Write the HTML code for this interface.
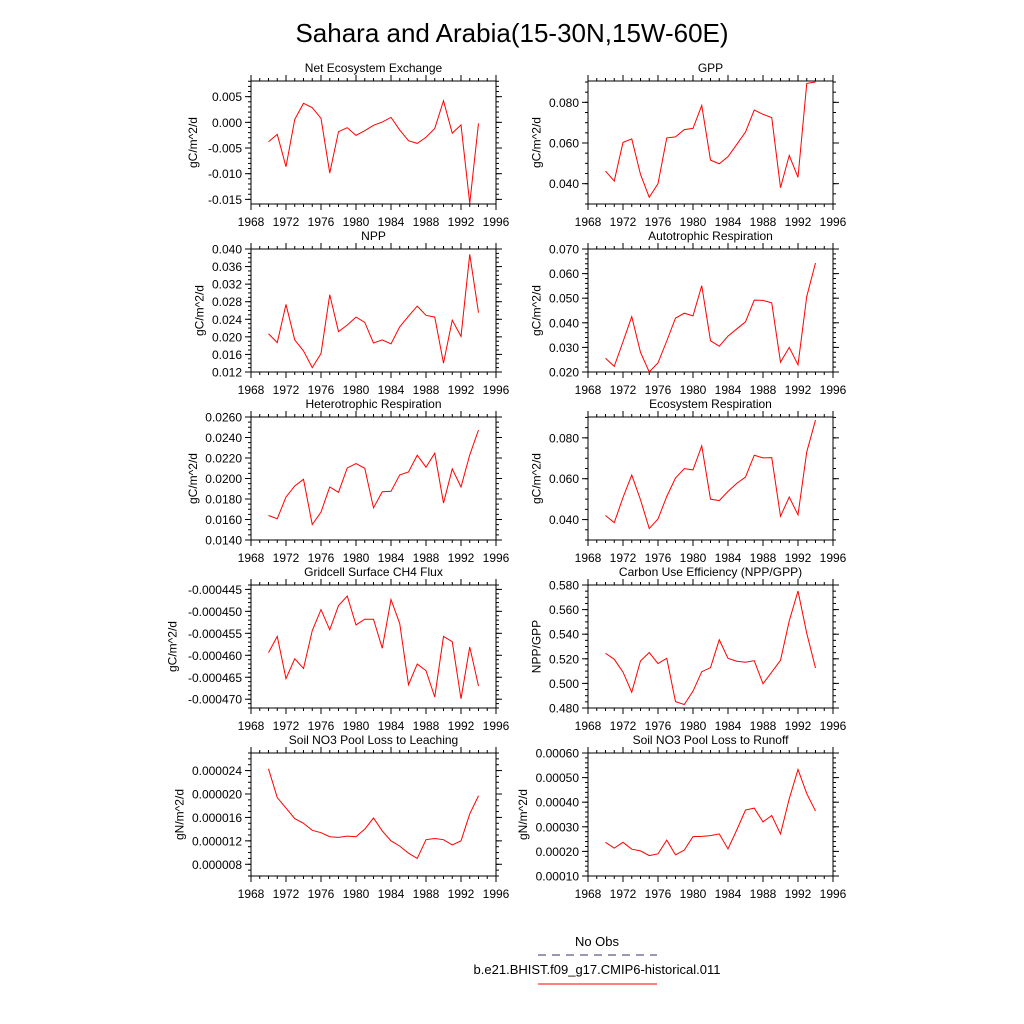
<!DOCTYPE html>
<html><head><meta charset="utf-8"><style>
html,body{margin:0;padding:0;background:#fff;}
svg{display:block;font-family:"Liberation Sans",sans-serif;}
</style></head><body>
<svg id="chart" width="1024" height="1024" viewBox="0 0 1024 1024">
<text x="512" y="42" font-size="26" text-anchor="middle">Sahara and Arabia(15-30N,15W-60E)</text>
<g id="panels"></g>
<g>
<text x="597" y="946" font-size="13" text-anchor="middle">No Obs</text>
<line x1="538" y1="955" x2="657" y2="955" stroke="#333366" stroke-width="1" stroke-dasharray="8,6"/>
<text x="597" y="974" font-size="13" text-anchor="middle">b.e21.BHIST.f09_g17.CMIP6-historical.011</text>
<line x1="538" y1="984" x2="657" y2="984" stroke="red" stroke-width="1"/>
</g>
</svg>
<script>
const years = [1970,1971,1972,1973,1974,1975,1976,1977,1978,1979,1980,1981,1982,1983,1984,1985,1986,1987,1988,1989,1990,1991,1992,1993,1994];
const xTicks = [1968,1972,1976,1980,1984,1988,1992,1996];

const neeVals = [-0.00377,-0.00234,-0.00864,0.00058,0.0037,0.00286,0.00078,-0.00987,-0.00182,-0.00104,-0.00253,-0.00162,-0.00058,0.00006,0.00097,-0.0015,-0.00357,-0.0041,-0.0029,-0.0012,0.0042,-0.0021,-0.0005,-0.0158,-0.0002];
const gppVals = [0.0462,0.0413,0.0603,0.062,0.0446,0.0333,0.040,0.0625,0.063,0.0666,0.0672,0.0785,0.0516,0.0498,0.0533,0.0593,0.0654,0.0762,0.0741,0.0725,0.038,0.0539,0.0431,0.0893,0.0900];
const nppVals = [0.0207,0.0187,0.0274,0.0193,0.0168,0.0130,0.0162,0.0296,0.0212,0.0227,0.0245,0.0233,0.0186,0.0193,0.0184,0.0223,0.0247,0.0270,0.0249,0.0245,0.0140,0.0238,0.0201,0.0388,0.0255];
const arVals = [0.0256,0.0223,0.0323,0.0425,0.028,0.020,0.0237,0.0326,0.0419,0.0439,0.0428,0.0551,0.0327,0.0305,0.0346,0.0375,0.0404,0.0492,0.0491,0.0481,0.0240,0.0300,0.0229,0.0507,0.0643];
const hrVals = [0.01639,0.01607,0.0182,0.01927,0.01992,0.01551,0.01672,0.01917,0.01865,0.02103,0.02146,0.0210,0.01714,0.01871,0.01875,0.02035,0.02064,0.02227,0.0211,0.02247,0.0176,0.02094,0.01917,0.0223,0.02473];
const erVals = [0.042,0.0385,0.0508,0.0618,0.0497,0.0356,0.0403,0.0513,0.0603,0.0649,0.0643,0.0761,0.05,0.0493,0.0538,0.0577,0.0608,0.0715,0.0702,0.0703,0.0416,0.051,0.0423,0.0731,0.0887];
const ch4Vals = [-0.0004594,-0.0004557,-0.0004653,-0.0004608,-0.000463,-0.0004544,-0.0004496,-0.0004542,-0.0004487,-0.0004465,-0.0004531,-0.0004518,-0.0004518,-0.0004584,-0.0004473,-0.0004528,-0.0004667,-0.000462,-0.0004635,-0.0004695,-0.0004557,-0.0004569,-0.0004699,-0.0004581,-0.000467];
const cueVals = [0.5245,0.5196,0.5092,0.4928,0.5183,0.5251,0.5161,0.5204,0.4852,0.4828,0.4937,0.5095,0.5128,0.5355,0.5204,0.518,0.5172,0.5185,0.4997,0.5092,0.5188,0.5508,0.5751,0.5407,0.5125];
const leachVals = [24.3e-6,19.4e-6,17.6e-6,15.8e-6,15.0e-6,13.8e-6,13.4e-6,12.7e-6,12.6e-6,12.8e-6,12.7e-6,14.0e-6,15.9e-6,13.7e-6,12.0e-6,11.1e-6,9.9e-6,9.0e-6,12.2e-6,12.4e-6,12.2e-6,11.3e-6,12.0e-6,16.6e-6,19.7e-6];
const runoffVals = [0.000237,0.000213,0.000237,0.000209,0.000202,0.000183,0.00019,0.000246,0.000186,0.000205,0.00026,0.000261,0.000264,0.000271,0.00021,0.000287,0.000368,0.000376,0.00032,0.000346,0.000271,0.000414,0.000533,0.000435,0.000364];

const neeTicks = ["0.005","0.000","-0.005","-0.010","-0.015"];
const gppTicks = ["0.080","0.060","0.040"];
const nppTicks = ["0.040","0.036","0.032","0.028","0.024","0.020","0.016","0.012"];
const arTicks = ["0.070","0.060","0.050","0.040","0.030","0.020"];
const hrTicks = ["0.0260","0.0240","0.0220","0.0200","0.0180","0.0160","0.0140"];
const erTicks = ["0.080","0.060","0.040"];
const ch4Ticks = ["-0.000445","-0.000450","-0.000455","-0.000460","-0.000465","-0.000470"];
const cueTicks = ["0.580","0.560","0.540","0.520","0.500","0.480"];
const leachTicks = ["0.000024","0.000020","0.000016","0.000012","0.000008"];
const runoffTicks = ["0.00060","0.00050","0.00040","0.00030","0.00020","0.00010"];

const panels = [
 {name:'nee',title:'Net Ecosystem Exchange',yt:'gC/m^2/d',col:0,row:0,ymin:-0.0159,ymax:0.00805,vals:neeVals,ticks:neeTicks,minor:0.001},
 {name:'gpp',title:'GPP',yt:'gC/m^2/d',col:1,row:0,ymin:0.030,ymax:0.0905,vals:gppVals,ticks:gppTicks,minor:0.005},
 {name:'npp',title:'NPP',yt:'gC/m^2/d',col:0,row:1,ymin:0.012,ymax:0.040,vals:nppVals,ticks:nppTicks,minor:0.001},
 {name:'ar',title:'Autotrophic Respiration',yt:'gC/m^2/d',col:1,row:1,ymin:0.020,ymax:0.070,vals:arVals,ticks:arTicks,minor:0.002},
 {name:'hr',title:'Heterotrophic Respiration',yt:'gC/m^2/d',col:0,row:2,ymin:0.014,ymax:0.026,vals:hrVals,ticks:hrTicks,minor:0.0005},
 {name:'er',title:'Ecosystem Respiration',yt:'gC/m^2/d',col:1,row:2,ymin:0.030,ymax:0.0902,vals:erVals,ticks:erTicks,minor:0.005},
 {name:'ch4',title:'Gridcell Surface CH4 Flux',yt:'gC/m^2/d',col:0,row:3,ymin:-0.000472,ymax:-0.000444,vals:ch4Vals,ticks:ch4Ticks,minor:0.000001},
 {name:'cue',title:'Carbon Use Efficiency (NPP/GPP)',yt:'NPP/GPP',col:1,row:3,ymin:0.480,ymax:0.580,vals:cueVals,ticks:cueTicks,minor:0.005},
 {name:'leach',title:'Soil NO3 Pool Loss to Leaching',yt:'gN/m^2/d',col:0,row:4,ymin:0.000006,ymax:0.000027,vals:leachVals,ticks:leachTicks,minor:0.000001},
 {name:'runoff',title:'Soil NO3 Pool Loss to Runoff',yt:'gN/m^2/d',col:1,row:4,ymin:0.00010,ymax:0.00060,vals:runoffVals,ticks:runoffTicks,minor:0.00002}
];

const NS='http://www.w3.org/2000/svg';
const root=document.getElementById('panels');
function mk(tag,attrs,parent){const e=document.createElementNS(NS,tag);for(const k in attrs)e.setAttribute(k,attrs[k]);parent.appendChild(e);return e;}

const colX=[251,588], rowY=[81,249,417,585,753], W=245, H=123;
panels.forEach(p=>{
  const L=colX[p.col], T=rowY[p.row], R=L+W, B=T+H;
  const xs=v=>L+(v-1968)/(1996-1968)*W;
  const ys=v=>B-(v-p.ymin)/(p.ymax-p.ymin)*H;
  const g=mk('g',{},root);
  
  
  const t=mk('text',{x:(L+R)/2,y:T-9,'font-size':12,'text-anchor':'middle'},g);
  t.textContent=p.title;
  
  
  // x ticks
  for(let yr=1968;yr<=1996;yr++){
    const x=xs(yr); const major=(yr-1968)%4===0; const len=major?6:3;
    const a=mk('line',{x1:x,y1:B,x2:x,y2:B+len,stroke:'#000','stroke-width':1},g);
    
    
    const b=mk('line',{x1:x,y1:T,x2:x,y2:T-len,stroke:'#000','stroke-width':1},g);
    
    
  }
  xTicks.forEach(yr=>{
    const lb=mk('text',{x:xs(yr),y:B+22,'font-size':12,'text-anchor':'middle'},g);
    lb.textContent=String(yr);
    
    
  });
  // y minor ticks
  const start=Math.ceil(p.ymin/p.minor-1e-6);
  for(let i=start;i*p.minor<=p.ymax+1e-12;i++){
    const y=ys(i*p.minor);
    const m1=mk('line',{x1:L,y1:y,x2:L-3,y2:y,stroke:'#000','stroke-width':1},g);
    
    
    const m2=mk('line',{x1:R,y1:y,x2:R+3,y2:y,stroke:'#000','stroke-width':1},g);
    
    
  }
  // y major ticks with labels
  p.ticks.forEach(s=>{
    const v=parseFloat(s); const y=ys(v);
    const a=mk('line',{x1:L,y1:y,x2:L-6,y2:y,stroke:'#000','stroke-width':1},g);
    
    
    const b=mk('line',{x1:R,y1:y,x2:R+6,y2:y,stroke:'#000','stroke-width':1},g);
    
    
    const lb=mk('text',{x:L-9,y:y+4.5,'font-size':12,'text-anchor':'end'},g);
    lb.textContent=s;
    
    
  });
  // y title
  const maxLen=Math.max(...p.ticks.map(s=>s.length));
  const tx=L-14-maxLen*6.7;
  const yt=mk('text',{x:tx,y:(T+B)/2,'font-size':12,'text-anchor':'middle',transform:`rotate(-90 ${tx} ${(T+B)/2})`},g);
  yt.textContent=p.yt;
  
  
  // frame
  const fr=mk('rect',{x:L,y:T,width:W,height:H,fill:'none',stroke:'#000','stroke-width':1},g);
  
  
  // series
  const pts=p.vals.map((v,i)=>xs(years[i]).toFixed(2)+','+ys(v).toFixed(2)).join(' ');
  const ln=mk('polyline',{points:pts,fill:'none',stroke:'red','stroke-width':1},g);
  
  
});
</script>
</body></html>
